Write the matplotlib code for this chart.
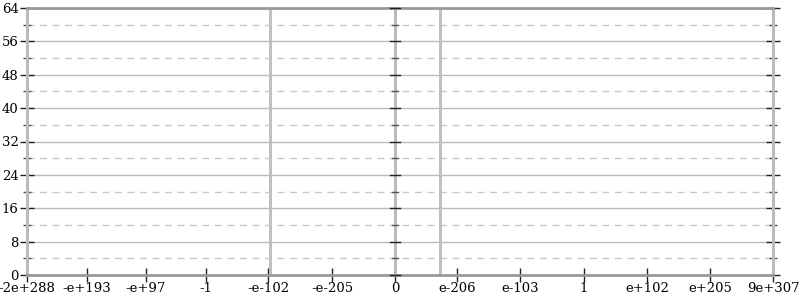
import matplotlib
matplotlib.use("Agg")
import matplotlib.pyplot as plt
import numpy as np

# x positions are on the chart's own ordered-float scale (0 at the middle axis)
tick_pos = [-368, -308, -249, -189, -127, -63, 0, 62, 125, 189, 252, 315, 378]
tick_labels = ["-2e+288", "-e+193", "-e+97", "-1", "-e-102", "-e-205", "0",
               "e-206", "e-103", "1", "e+102", "e+205", "9e+307"]
bar_pos = [-125, 45]
bar_count = [64, 64]

y_major = [0, 8, 16, 24, 32, 40, 48, 56, 64]
y_minor = [4, 12, 20, 28, 36, 44, 52, 60]

plt.rcParams['font.family'] = ['DejaVu Serif']
plt.rcParams['font.size'] = 9.5

fig = plt.figure(figsize=(8, 3), dpi=100)
ax = fig.add_axes([27 / 800, 1 - 275 / 300, 746 / 800, 267 / 300])

ax.set_xlim(tick_pos[0], tick_pos[-1])
ax.set_ylim(0, 64)

for y in y_major[1:-1]:
    ax.axhline(y, color="#bbbbbb", lw=1, zorder=1)
for y in y_minor:
    ax.axhline(y, color="#c8c8c8", lw=1, ls=(0, (5, 4)), zorder=1)

ax.bar(bar_pos, bar_count, width=3, color="#c0c0c0", zorder=2)

for s in ax.spines.values():
    s.set_visible(False)
for xv in (tick_pos[0], 0, tick_pos[-1]):
    ax.axvline(xv, color="#bbbbbb", lw=2.2, zorder=3, clip_on=False)
ax.axhline(64, color="#999999", lw=2, zorder=3, clip_on=False)
ax.axhline(0, color="#999999", lw=2, zorder=3, clip_on=False)

ax.set_xticks(tick_pos)
ax.set_xticklabels(tick_labels)
ax.set_yticks(y_major)
ax.set_yticks(y_minor, minor=True)
ax.tick_params(axis="x", direction="inout", length=10, width=1, color="#222222", pad=0)
ax.tick_params(axis="y", which="major", direction="inout", length=10, width=1,
               color="#222222", pad=1, right=True)
ax.tick_params(axis="y", which="minor", direction="inout", length=6, width=1,
               color="#555555", right=True)

# ticks on the middle axis
for y in y_major:
    ax.plot([-5, 5], [y, y], color="#222222", lw=1, zorder=4, clip_on=False)
for y in y_minor:
    ax.plot([-3, 3], [y, y], color="#555555", lw=1, zorder=4, clip_on=False)

fig.savefig("out.png", dpi=100)
